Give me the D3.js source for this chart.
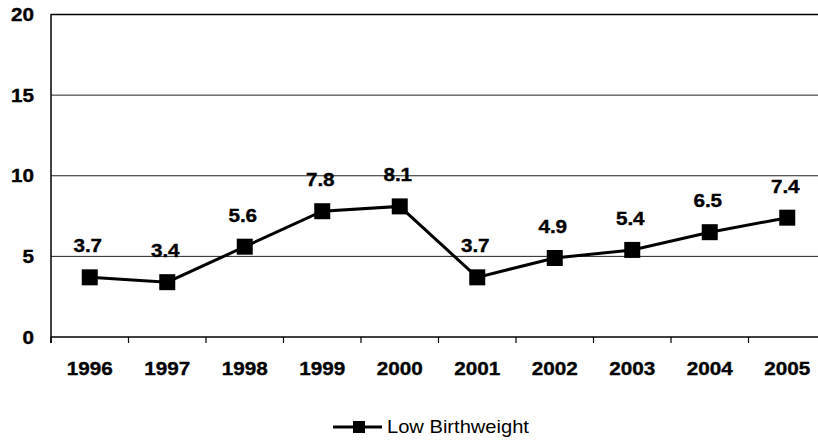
<!DOCTYPE html>
<html><head><meta charset="utf-8">
<script src="https://cdn.jsdelivr.net/npm/d3@7"></script>
<style>body{margin:0;background:#fff}svg{display:block}text{font-family:"Liberation Sans",Arial,sans-serif}</style>
</head><body>
<svg id="c" width="818" height="443"></svg>
<script>
const years = ["1996","1997","1998","1999","2000","2001","2002","2003","2004","2005"];
const lowBirthweight = [3.7,3.4,5.6,7.8,8.1,3.7,4.9,5.4,6.5,7.4];
const yTicks = [0,5,10,15,20];
const seriesName = "Low Birthweight";

const svg = d3.select("#c");
const SX = 1.15;
const x = d3.scaleBand().domain(years).range([51, 826]);
const y = d3.scaleLinear().domain([0,20]).range([337, 14.5]);

// gridlines
svg.append("g").selectAll("line").data(yTicks.filter(d=>d>0)).join("line")
  .attr("x1",51).attr("x2",818).attr("y1",d=>y(d)).attr("y2",d=>y(d))
  .attr("stroke",d=>d===20?"#000":"#222").attr("stroke-width",d=>d===20?1.6:1);

function bold(sel){ return sel.attr("font-size",18).attr("font-weight","bold")
  .attr("stroke","#000").attr("stroke-width",0.35).attr("fill","#000"); }

// y axis labels
bold(svg.append("g").selectAll("text").data(yTicks).join("text")
  .attr("transform",d=>`translate(34,${y(d)+6.5}) scale(${SX},1)`)
  .attr("text-anchor","end"))
  .text(d=>d);

// axes lines
svg.append("line").attr("x1",51).attr("x2",51).attr("y1",14).attr("y2",343)
  .attr("stroke","#000").attr("stroke-width",1.5);
svg.append("line").attr("x1",51).attr("x2",818).attr("y1",337).attr("y2",337)
  .attr("stroke","#000").attr("stroke-width",1.5);
// x ticks at band boundaries
svg.append("g").selectAll("line").data(years).join("line")
  .attr("x1",d=>x(d)).attr("x2",d=>x(d)).attr("y1",337).attr("y2",343)
  .attr("stroke","#000").attr("stroke-width",1.2);

// x labels
bold(svg.append("g").selectAll("text").data(years).join("text")
  .attr("transform",d=>`translate(${x(d)+x.bandwidth()/2},375) scale(${SX},1)`)
  .attr("text-anchor","middle"))
  .text(d=>d);

const pts = years.map((yr,i)=>({yr,v:lowBirthweight[i]}));
const cx = d=>x(d.yr)+x.bandwidth()/2;
svg.append("path").datum(pts)
  .attr("d",d3.line().x(cx).y(d=>y(d.v)))
  .attr("fill","none").attr("stroke","#000").attr("stroke-width",3);
svg.append("g").selectAll("rect").data(pts).join("rect")
  .attr("x",d=>cx(d)-8).attr("y",d=>y(d.v)-8).attr("width",16).attr("height",16)
  .attr("fill","#000");
bold(svg.append("g").selectAll("text").data(pts).join("text")
  .attr("transform",d=>`translate(${cx(d)-2},${y(d.v)-25}) scale(${SX},1)`)
  .attr("text-anchor","middle"))
  .text(d=>d.v.toFixed(1));

// legend
const lg = svg.append("g");
lg.append("line").attr("x1",333).attr("x2",382).attr("y1",427).attr("y2",427)
  .attr("stroke","#000").attr("stroke-width",3);
lg.append("rect").attr("x",353).attr("y",421).attr("width",12).attr("height",12).attr("fill","#000");
lg.append("text").attr("transform",`translate(387,433) scale(${SX},1)`)
  .attr("font-size",17.5).text(seriesName);
</script>
</body></html>
